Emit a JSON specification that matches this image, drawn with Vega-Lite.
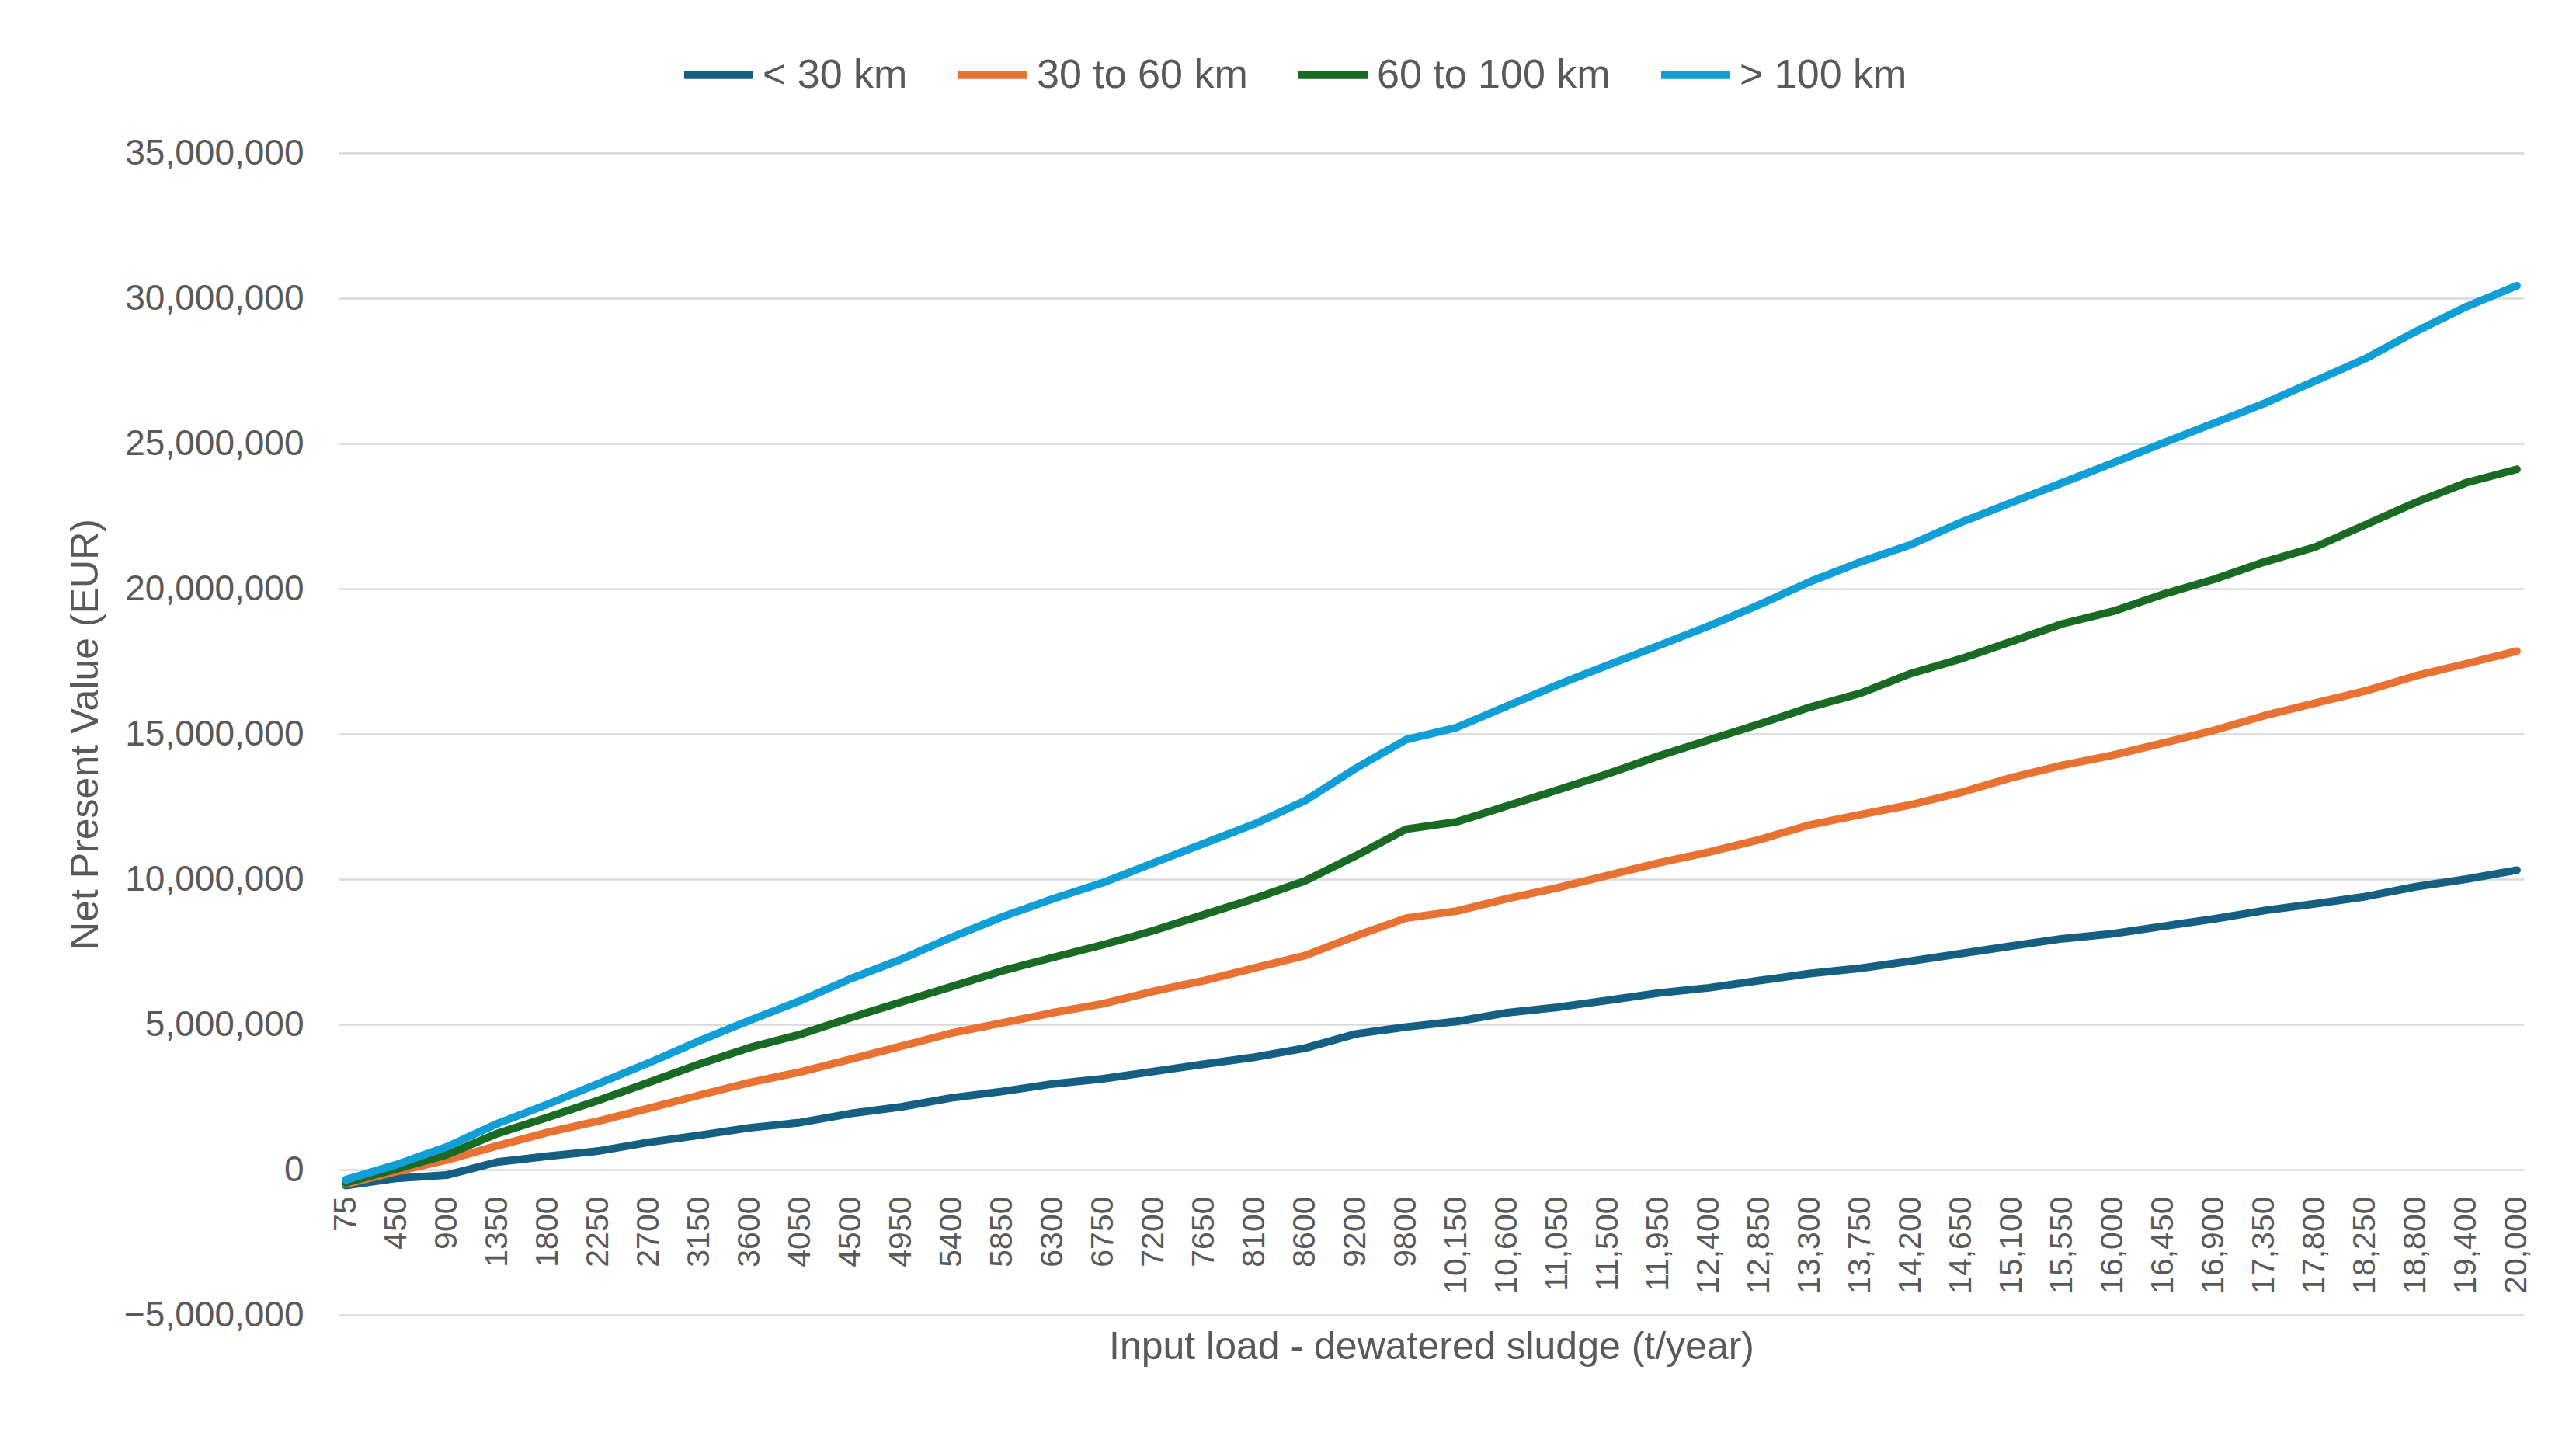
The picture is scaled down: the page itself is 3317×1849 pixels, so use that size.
{
  "$schema": "https://vega.github.io/schema/vega-lite/v6.json",
  "width": 2814,
  "height": 1496,
  "autosize": {"type": "none"},
  "padding": {"left": 436, "top": 197, "right": 67, "bottom": 156},
  "background": "white",
  "data": {
    "values": [
      {"load": "75", "< 30 km": -550000, "30 to 60 km": -500000, "60 to 100 km": -450000, "> 100 km": -350000},
      {"load": "450", "< 30 km": -300000, "30 to 60 km": -70000, "60 to 100 km": 20000, "> 100 km": 170000},
      {"load": "900", "< 30 km": -190000, "30 to 60 km": 330000, "60 to 100 km": 510000, "> 100 km": 780000},
      {"load": "1350", "< 30 km": 260000, "30 to 60 km": 820000, "60 to 100 km": 1240000, "> 100 km": 1580000},
      {"load": "1800", "< 30 km": 460000, "30 to 60 km": 1280000, "60 to 100 km": 1800000, "> 100 km": 2250000},
      {"load": "2250", "< 30 km": 640000, "30 to 60 km": 1670000, "60 to 100 km": 2380000, "> 100 km": 2960000},
      {"load": "2700", "< 30 km": 940000, "30 to 60 km": 2110000, "60 to 100 km": 3000000, "> 100 km": 3670000},
      {"load": "3150", "< 30 km": 1180000, "30 to 60 km": 2560000, "60 to 100 km": 3630000, "> 100 km": 4430000},
      {"load": "3600", "< 30 km": 1440000, "30 to 60 km": 3000000, "60 to 100 km": 4200000, "> 100 km": 5140000},
      {"load": "4050", "< 30 km": 1620000, "30 to 60 km": 3360000, "60 to 100 km": 4650000, "> 100 km": 5810000},
      {"load": "4500", "< 30 km": 1930000, "30 to 60 km": 3800000, "60 to 100 km": 5230000, "> 100 km": 6570000},
      {"load": "4950", "< 30 km": 2160000, "30 to 60 km": 4250000, "60 to 100 km": 5770000, "> 100 km": 7240000},
      {"load": "5400", "< 30 km": 2470000, "30 to 60 km": 4700000, "60 to 100 km": 6300000, "> 100 km": 8000000},
      {"load": "5850", "< 30 km": 2690000, "30 to 60 km": 5050000, "60 to 100 km": 6840000, "> 100 km": 8700000},
      {"load": "6300", "< 30 km": 2950000, "30 to 60 km": 5400000, "60 to 100 km": 7300000, "> 100 km": 9320000},
      {"load": "6750", "< 30 km": 3130000, "30 to 60 km": 5710000, "60 to 100 km": 7740000, "> 100 km": 9880000},
      {"load": "7200", "< 30 km": 3380000, "30 to 60 km": 6140000, "60 to 100 km": 8230000, "> 100 km": 10560000},
      {"load": "7650", "< 30 km": 3630000, "30 to 60 km": 6510000, "60 to 100 km": 8780000, "> 100 km": 11230000},
      {"load": "8100", "< 30 km": 3870000, "30 to 60 km": 6940000, "60 to 100 km": 9330000, "> 100 km": 11900000},
      {"load": "8600", "< 30 km": 4180000, "30 to 60 km": 7370000, "60 to 100 km": 9940000, "> 100 km": 12700000},
      {"load": "9200", "< 30 km": 4670000, "30 to 60 km": 8040000, "60 to 100 km": 10800000, "> 100 km": 13810000},
      {"load": "9800", "< 30 km": 4910000, "30 to 60 km": 8660000, "60 to 100 km": 11720000, "> 100 km": 14800000},
      {"load": "10,150", "< 30 km": 5100000, "30 to 60 km": 8900000, "60 to 100 km": 11970000, "> 100 km": 15220000},
      {"load": "10,600", "< 30 km": 5400000, "30 to 60 km": 9330000, "60 to 100 km": 12520000, "> 100 km": 15960000},
      {"load": "11,050", "< 30 km": 5590000, "30 to 60 km": 9700000, "60 to 100 km": 13070000, "> 100 km": 16690000},
      {"load": "11,500", "< 30 km": 5830000, "30 to 60 km": 10130000, "60 to 100 km": 13630000, "> 100 km": 17370000},
      {"load": "11,950", "< 30 km": 6080000, "30 to 60 km": 10560000, "60 to 100 km": 14240000, "> 100 km": 18040000},
      {"load": "12,400", "< 30 km": 6260000, "30 to 60 km": 10930000, "60 to 100 km": 14790000, "> 100 km": 18720000},
      {"load": "12,850", "< 30 km": 6510000, "30 to 60 km": 11360000, "60 to 100 km": 15340000, "> 100 km": 19450000},
      {"load": "13,300", "< 30 km": 6750000, "30 to 60 km": 11870000, "60 to 100 km": 15920000, "> 100 km": 20240000},
      {"load": "13,750", "< 30 km": 6930000, "30 to 60 km": 12220000, "60 to 100 km": 16400000, "> 100 km": 20920000},
      {"load": "14,200", "< 30 km": 7180000, "30 to 60 km": 12560000, "60 to 100 km": 17080000, "> 100 km": 21520000},
      {"load": "14,650", "< 30 km": 7440000, "30 to 60 km": 12990000, "60 to 100 km": 17590000, "> 100 km": 22290000},
      {"load": "15,100", "< 30 km": 7700000, "30 to 60 km": 13500000, "60 to 100 km": 18190000, "> 100 km": 22970000},
      {"load": "15,550", "< 30 km": 7950000, "30 to 60 km": 13920000, "60 to 100 km": 18790000, "> 100 km": 23650000},
      {"load": "16,000", "< 30 km": 8120000, "30 to 60 km": 14270000, "60 to 100 km": 19220000, "> 100 km": 24330000},
      {"load": "16,450", "< 30 km": 8380000, "30 to 60 km": 14690000, "60 to 100 km": 19810000, "> 100 km": 25020000},
      {"load": "16,900", "< 30 km": 8630000, "30 to 60 km": 15120000, "60 to 100 km": 20320000, "> 100 km": 25700000},
      {"load": "17,350", "< 30 km": 8920000, "30 to 60 km": 15630000, "60 to 100 km": 20920000, "> 100 km": 26380000},
      {"load": "17,800", "< 30 km": 9150000, "30 to 60 km": 16060000, "60 to 100 km": 21430000, "> 100 km": 27150000},
      {"load": "18,250", "< 30 km": 9400000, "30 to 60 km": 16480000, "60 to 100 km": 22200000, "> 100 km": 27920000},
      {"load": "18,800", "< 30 km": 9740000, "30 to 60 km": 17000000, "60 to 100 km": 22970000, "> 100 km": 28860000},
      {"load": "19,400", "< 30 km": 10000000, "30 to 60 km": 17420000, "60 to 100 km": 23650000, "> 100 km": 29710000},
      {"load": "20,000", "< 30 km": 10310000, "30 to 60 km": 17850000, "60 to 100 km": 24110000, "> 100 km": 30430000}
    ]
  },
  "transform": [
    {"fold": ["< 30 km", "30 to 60 km", "60 to 100 km", "> 100 km"], "as": ["distance", "npv"]}
  ],
  "mark": {"type": "line", "strokeWidth": 10, "strokeCap": "round", "strokeJoin": "round"},
  "encoding": {
    "x": {
      "field": "load",
      "type": "ordinal",
      "sort": null,
      "scale": {"type": "point", "padding": 0.14},
      "axis": {
        "title": "Input load - dewatered sludge (t/year)",
        "offset": -187,
        "domain": false,
        "ticks": false,
        "tickSize": 0,
        "grid": false,
        "labelAngle": 270,
        "labelPadding": 34,
        "labelFontSize": 41,
        "labelColor": "#595959",
        "labelOverlap": false,
        "titleFontSize": 50,
        "titleFontWeight": "normal",
        "titleColor": "#595959",
        "titleY": 243,
        "titleBaseline": "alphabetic"
      }
    },
    "y": {
      "field": "npv",
      "type": "quantitative",
      "scale": {"domain": [-5000000, 35000000], "nice": false, "zero": false},
      "axis": {
        "title": "Net Present Value (EUR)",
        "values": [-5000000, 0, 5000000, 10000000, 15000000, 20000000, 25000000, 30000000, 35000000],
        "format": ",d",
        "domain": false,
        "ticks": false,
        "tickSize": 0,
        "gridColor": "#D9D9D9",
        "gridWidth": 2.5,
        "labelPadding": 45,
        "labelFontSize": 46,
        "labelLimit": 400,
        "labelColor": "#595959",
        "titleFontSize": 50,
        "titleFontWeight": "normal",
        "titleColor": "#595959",
        "titleX": -311,
        "titleBaseline": "alphabetic"
      }
    },
    "color": {
      "field": "distance",
      "type": "nominal",
      "scale": {
        "domain": ["< 30 km", "30 to 60 km", "60 to 100 km", "> 100 km"],
        "range": ["#156082", "#E97132", "#196B24", "#0F9ED5"]
      },
      "legend": {
        "title": null,
        "orient": "none",
        "direction": "horizontal",
        "legendX": 440,
        "legendY": -150,
        "symbolType": "stroke",
        "symbolSize": 7921,
        "symbolStrokeWidth": 10,
        "labelFontSize": 52,
        "labelColor": "#595959",
        "labelOffset": 7,
        "labelLimit": 600,
        "columnPadding": 45,
        "padding": 0
      }
    }
  },
  "config": {
    "view": {"stroke": null},
    "font": "Liberation Sans"
  }
}
